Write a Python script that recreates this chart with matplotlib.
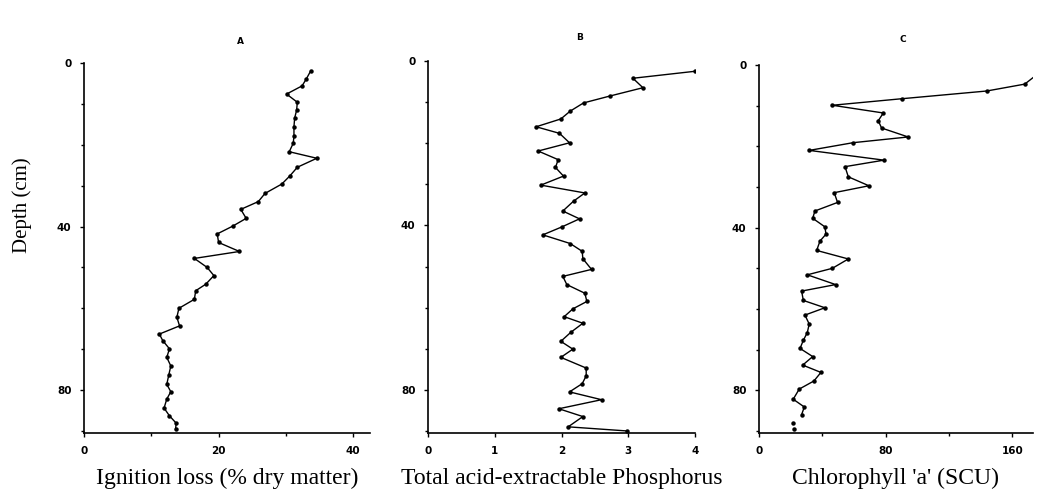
import numpy as np
import matplotlib.pyplot as plt
from matplotlib.ticker import MultipleLocator

# Panel A - ignition loss (% dry matter) vs depth (cm)
a_loss = [33.7, 33.0, 32.4, 30.1, 31.7, 31.6, 31.3, 31.2, 31.2, 31.1, 30.5, 34.6,
          31.7, 30.6, 29.4, 26.9, 25.9, 23.3, 24.1, 22.1, 19.8, 20.0, 23.1, 16.4,
          18.3, 19.3, 18.1, 16.6, 16.4, 14.1, 13.8, 14.2, 11.2, 11.7, 12.7, 12.3,
          12.9, 12.6, 12.3, 12.9, 12.3, 11.9, 12.7, 13.7, 13.6]
a_depth = [1.9, 4.0, 5.6, 7.6, 9.6, 11.5, 13.5, 15.6, 17.8, 19.6, 21.7, 23.3,
           25.5, 27.6, 29.6, 31.9, 33.9, 35.8, 38.0, 39.9, 41.8, 43.9, 46.1, 47.8,
           50.0, 52.0, 54.1, 55.7, 57.8, 60.0, 62.2, 64.3, 66.3, 67.9, 69.9, 72.0,
           74.1, 76.3, 78.6, 80.4, 82.2, 84.4, 86.3, 88.1, 89.6]

# Panel B - total acid-extractable phosphorus
b_phos = [4.0, 3.07, 3.22, 2.73, 2.33, 2.13, 1.99, 1.62, 1.97, 2.12, 1.65, 1.95,
          1.91, 2.03, 1.69, 2.35, 2.18, 2.02, 2.27, 2.00, 1.72, 2.13, 2.31, 2.32,
          2.45, 2.02, 2.08, 2.35, 2.38, 2.17, 2.04, 2.32, 2.14, 1.99, 2.17, 1.99,
          2.37, 2.37, 2.31, 2.12, 2.60, 1.96, 2.32, 2.10, 2.98]
b_depth = [2.5, 4.2, 6.5, 8.5, 10.2, 12.2, 14.1, 16.0, 17.6, 19.9, 21.9, 24.0,
           25.9, 28.0, 30.2, 32.1, 34.1, 36.5, 38.4, 40.4, 42.3, 44.4, 46.3, 48.1,
           50.7, 52.4, 54.4, 56.5, 58.5, 60.3, 62.2, 63.8, 66.0, 68.2, 70.1, 72.1,
           74.7, 76.6, 78.5, 80.5, 82.4, 84.6, 86.5, 89.0, 90.0]

# Panel C - chlorophyll 'a' (SCU)
c_chl = [175, 167.8, 143.7, 90.0, 46.3, 78.5, 75.3, 77.4, 94.2, 59.5, 31.7, 78.9,
         54.3, 56.4, 69.4, 47.5, 49.6, 35.3, 33.9, 41.6, 42.3, 38.5, 36.4, 56.4,
         46.3, 30.5, 48.4, 26.9, 28.0, 41.6, 29.0, 31.7, 30.5, 28.0, 25.9, 33.9,
         27.6, 39.1, 34.7, 25.4, 21.6, 28.6, 26.9]
c_depth = [2.5, 4.7, 6.4, 8.3, 9.9, 11.8, 13.7, 15.5, 17.7, 19.1, 21.0, 23.4,
           25.0, 27.5, 29.7, 31.4, 33.8, 35.9, 37.7, 39.8, 41.6, 43.3, 45.6, 47.7,
           50.0, 51.6, 54.0, 55.6, 57.9, 59.7, 61.5, 63.7, 65.8, 67.7, 69.7, 71.7,
           73.8, 75.6, 77.7, 79.7, 82.2, 84.1, 86.0]
c_tail_chl = [21.6, 22.1]
c_tail_depth = [88.0, 89.5]

W, H = 1039, 499
fig = plt.figure(figsize=(W / 100, H / 100), dpi=100)


def px_axes(left, right, top, bottom):
    return fig.add_axes([left / W, 1 - bottom / H, (right - left) / W, (bottom - top) / H])


def style_axis(ax, xmax, xmajor, xminor, xlabel):
    ax.set_xlim(0, xmax)
    ax.set_ylim(90.5, 0)
    for s in ["top", "right"]:
        ax.spines[s].set_visible(False)
    for s in ["left", "bottom"]:
        ax.spines[s].set_linewidth(1.2)
    ax.xaxis.set_major_locator(MultipleLocator(xmajor))
    ax.xaxis.set_minor_locator(MultipleLocator(xminor))
    ax.yaxis.set_major_locator(MultipleLocator(40))
    ax.yaxis.set_minor_locator(MultipleLocator(10))
    ax.tick_params(which="both", direction="out", length=3, width=1, labelsize=7.5, pad=6)
    ax.tick_params(which="minor", length=2)
    for lab in ax.get_xticklabels() + ax.get_yticklabels():
        lab.set_fontweight("bold")
    ax.set_xlabel(xlabel, family="Liberation Serif", fontsize=17, labelpad=9)


line_kw = dict(color="black", lw=1.0, marker="o", markersize=2.2)

ax_a = px_axes(84, 370, 63, 433)
ax_a.plot(a_loss, a_depth, **line_kw)
style_axis(ax_a, 42.5, 20, 10, "Ignition loss (% dry matter)")

ax_b = px_axes(428, 695, 61, 433)
ax_b.plot(b_phos, b_depth, **line_kw)
style_axis(ax_b, 4, 1, 1, "Total acid-extractable Phosphorus")

ax_c = px_axes(759, 1033, 65, 433)
ax_c.plot(c_chl, c_depth, **line_kw)
ax_c.plot(c_tail_chl, c_tail_depth, ls="none", marker="o", markersize=2.2, color="black")
style_axis(ax_c, 173, 80, 40, "Chlorophyll 'a' (SCU)")

fig.text(22 / W, 1 - 205 / H, "Depth (cm)", family="Liberation Serif", fontsize=15,
         rotation=90, ha="center", va="center")

for x, y, t in [(240, 41, "A"), (580, 38, "B"), (903, 40, "C")]:
    fig.text(x / W, 1 - y / H, t, fontsize=6.5, fontweight="bold", ha="center", va="center")

fig.savefig("out.png", dpi=100)
